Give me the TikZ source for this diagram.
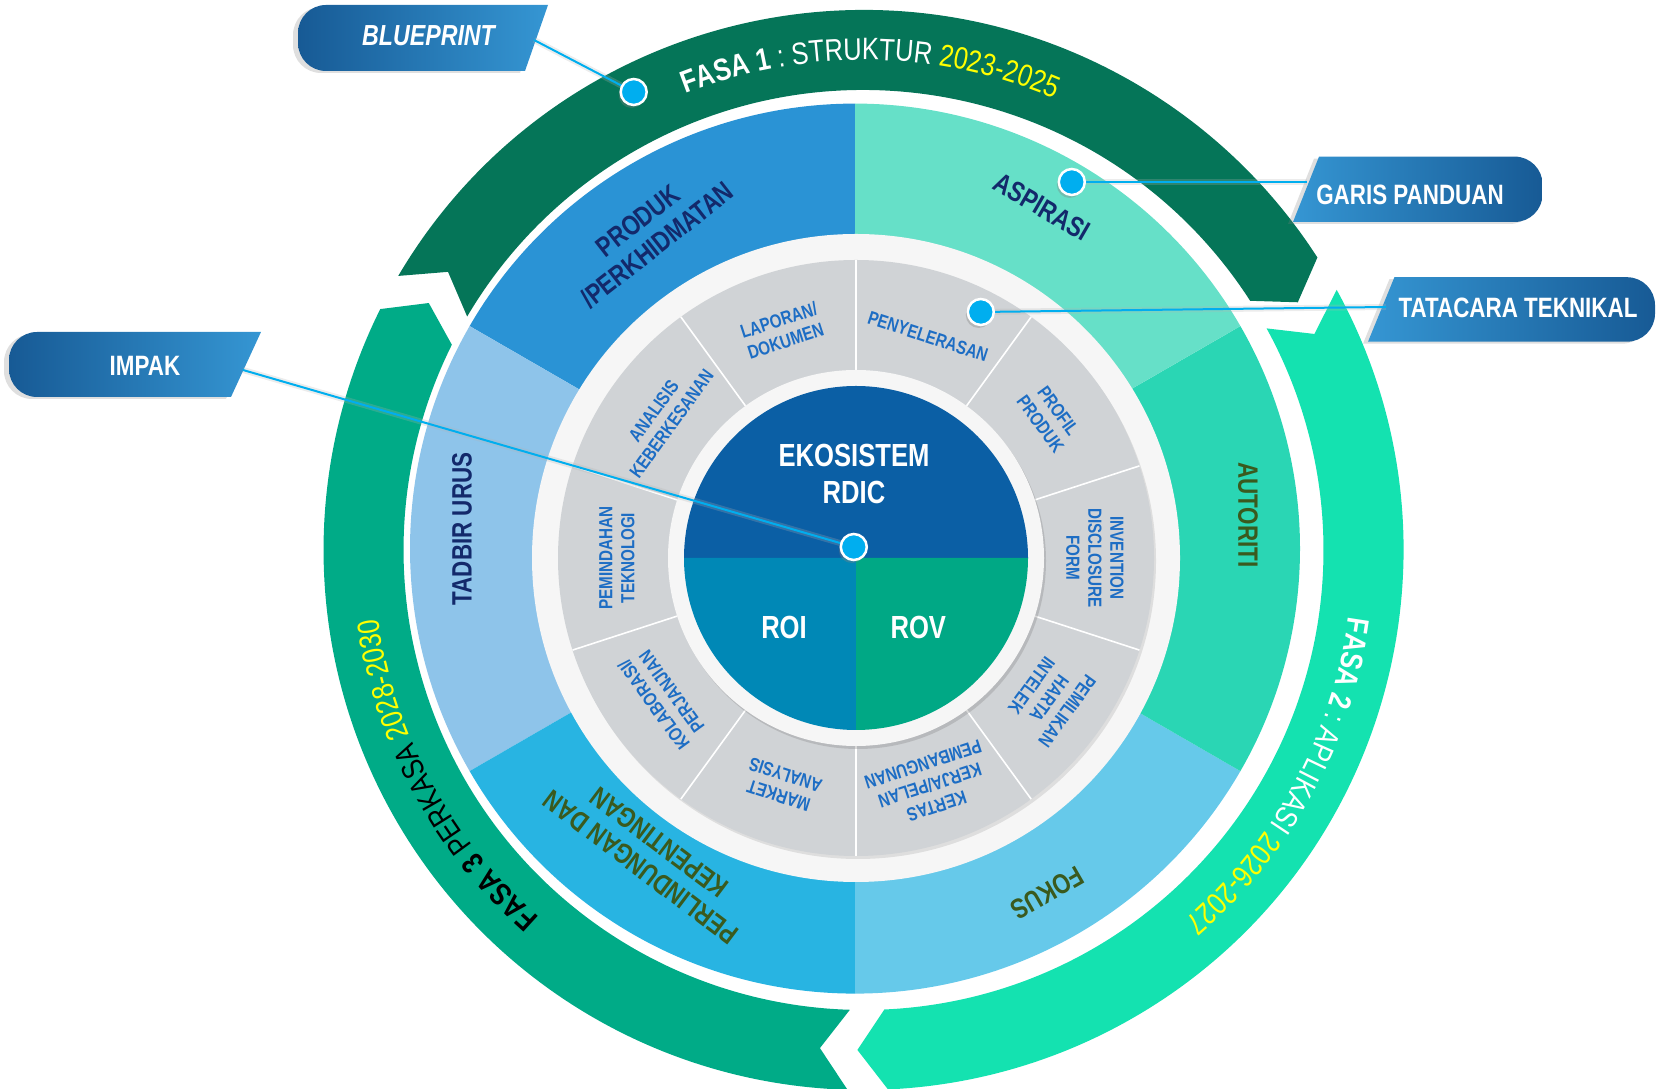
\documentclass[tikz,border=0pt]{standalone}
\usepackage{fontspec}
\usetikzlibrary{decorations.text,shadows,calc}
\newfontfamily\nar[FakeStretch=0.8]{Liberation Sans}
\newfontfamily\narw[FakeStretch=0.82]{Liberation Sans}
\newcommand\phB{\narw\bfseries\fontsize{31}{31}\selectfont}
\newcommand\phR{\narw\mdseries\fontsize{31}{31}\selectfont}
\definecolor{fasaA}{HTML}{057558}
\definecolor{fasaB}{HTML}{14E2B0}
\definecolor{fasaC}{HTML}{00AB87}
\definecolor{segProduk}{HTML}{2A93D5}
\definecolor{segAspirasi}{HTML}{66E0C8}
\definecolor{segAutoriti}{HTML}{2AD6B4}
\definecolor{segFokus}{HTML}{66C9EA}
\definecolor{segPerl}{HTML}{28B4E2}
\definecolor{segTadbir}{HTML}{8EC4EA}
\definecolor{navyTxt}{HTML}{13296B}
\definecolor{oliveTxt}{HTML}{3A5A1E}
\definecolor{grayseg}{HTML}{D0D3D6}
\definecolor{grayTxt}{HTML}{1D6DC4}
\definecolor{ringW}{HTML}{F6F6F6}
\definecolor{coreTop}{HTML}{0B5FA5}
\definecolor{coreRoi}{HTML}{0088B6}
\definecolor{coreRov}{HTML}{00A885}
\definecolor{linkC}{HTML}{00AEEF}
\definecolor{tagDark}{HTML}{175A95}
\definecolor{tagLight}{HTML}{3596D3}
\definecolor{yel}{HTML}{FFFF00}
\begin{document}
\begin{tikzpicture}[x=1pt,y=1pt,
  midtxt/.style={font=\nar\bfseries\fontsize{28}{31}\selectfont, align=center, inner sep=0pt},
  graytxt/.style={font=\nar\bfseries\fontsize{19}{22}\selectfont, text=grayTxt, align=center, inner sep=0pt},
  tagtxt/.style={font=\nar\bfseries\fontsize{28}{30}\selectfont, text=white, inner sep=0pt},
  coretxt/.style={font=\nar\bfseries\fontsize{32}{36}\selectfont, text=white, inner sep=0pt},
  dot/.style={circle, fill=linkC, draw=white, line width=2.5pt, minimum size=26pt, inner sep=0pt,
     drop shadow={opacity=0.35,shadow xshift=-2pt,shadow yshift=-3pt}},
  link/.style={draw=linkC, line width=2pt},
  linkshadow/.style={draw=black!30, line width=6pt, opacity=0.25},
  tagshadow/.style={drop shadow={opacity=0.25,shadow xshift=-5pt,shadow yshift=-2pt}},
]
\useasboundingbox (0,0) rectangle (1659,1089);
\coordinate (O) at (863.5,539);
\coordinate (M) at (855,540.4);
\coordinate (C) at (856,531);

% ---- outer phase bands
\fill[fasaA] ($(O)+(149.5:540)$) arc[start angle=149.5,end angle=32.8,radius=540]
  -- ($(O)+(29.7:500)$) -- ($(O)+(32.8:460)$) arc[start angle=32.8,end angle=149.5,radius=460]
  -- ($(O)+(146.2:500)$) -- cycle;
\fill[fasaB] ($(O)+(28.8:540)$) arc[start angle=28.8,end angle=-87.4,radius=540]
  -- ($(O)+(-90.7:500)$) -- ($(O)+(-87.4:460)$) arc[start angle=-87.4,end angle=28.8,radius=460]
  -- ($(O)+(25.6:500)$) -- cycle;
\fill[fasaC] ($(O)+(268.3:540)$) arc[start angle=268.3,end angle=153.5,radius=540]
  -- ($(O)+(150.4:500)$) -- ($(O)+(153.5:460)$) arc[start angle=153.5,end angle=268.3,radius=460]
  -- ($(O)+(265:500)$) -- cycle;

% ---- phase texts
\path[decorate, decoration={text along path, text align=center,
  text={|\phB\color{white}|FASA 1 |\phR\color{white}|: STRUKTUR |\phR\color{yel}|2023-2025}}]
  ($(O)+(150.2:490)$) arc[start angle=150.2,end angle=28.2,radius=490];
\path[decorate, decoration={text along path, text align=center,
  text={|\phB\color{white}|FASA 2 |\phR\color{white}|: APLIKASI |\phR\color{yel}|2026-2027}}]
  ($(O)+(32.5:490)$) arc[start angle=32.5,end angle=-89.5,radius=490];
\path[decorate, decoration={text along path, text align=center,
  text={|\phB\color{black}|FASA 3 |\phR\color{black}|PERKASA |\phR\color{yel}|2028-2030}}]
  ($(O)+(269.3:490)$) arc[start angle=269.3,end angle=147.3,radius=490];

% ---- middle ring
\fill[segProduk]  (M) -- ++(90:445)  arc[start angle=90,end angle=150,radius=445] -- cycle;
\fill[segTadbir]  (M) -- ++(150:445) arc[start angle=150,end angle=210,radius=445] -- cycle;
\fill[segPerl]    (M) -- ++(210:445) arc[start angle=210,end angle=270,radius=445] -- cycle;
\fill[segFokus]   (M) -- ++(270:445) arc[start angle=270,end angle=330,radius=445] -- cycle;
\fill[segAutoriti](M) -- ++(-30:445) arc[start angle=-30,end angle=30,radius=445] -- cycle;
\fill[segAspirasi](M) -- ++(30:445)  arc[start angle=30,end angle=90,radius=445] -- cycle;

% ---- white band, gray ring
\fill[ringW] (C) circle[radius=324];
\fill[grayseg, drop shadow={opacity=0.2,shadow xshift=2pt,shadow yshift=-3pt}] (C) circle[radius=298];
\foreach \a in {18,54,...,342}
  \draw[white, line width=1.6pt] ($(C)+(\a:188)$) -- ($(C)+(\a:298)$);
\fill[ringW, drop shadow={opacity=0.3,shadow xshift=2pt,shadow yshift=-3pt}] (C) circle[radius=188];

% ---- core
\fill[coreTop] ($(C)+(172,0)$) arc[start angle=0,end angle=180,radius=172] -- cycle;
\fill[coreRoi] (C) -- ++(180:172) arc[start angle=180,end angle=270,radius=172] -- cycle;
\fill[coreRov] (C) -- ++(270:172) arc[start angle=270,end angle=360,radius=172] -- cycle;
\node[coretxt] (eko) at (854,634) {EKOSISTEM};
\node[coretxt] (rdic) at (854,597) {RDIC};
\node[coretxt] (roi) at (784,461.6) {ROI};
\node[coretxt] (rov) at (918.3,461.6) {ROV};

% ---- middle ring labels
\node[midtxt, text=navyTxt, rotate=90] (tadbir) at (462,560) {TADBIR URUS};
\node[midtxt, text=navyTxt, rotate=38] (produk) at (647.5,856) {PRODUK\\/PERKHIDMATAN};
\node[midtxt, text=navyTxt, rotate=-30] (aspirasi) at (1042,882) {ASPIRASI};
\node[midtxt, text=oliveTxt, rotate=-90] (autoriti) at (1248,574) {AUTORITI};
\node[midtxt, text=oliveTxt, rotate=210] (fokus) at (1047,196) {FOKUS};
\node[midtxt, text=oliveTxt, rotate=143] (perl) at (650,234) {PERLINDUNGAN DAN\\KEPENTINGAN};

% ---- gray ring labels
\node[graytxt, rotate=18]  (g1) at ($(C)+(108:239)$) {LAPORAN/\\DOKUMEN};
\node[graytxt, rotate=54]  (g2) at ($(C)+(144:239)$) {ANALISIS\\KEBERKESANAN};
\node[graytxt, rotate=90]  (g3) at ($(C)+(180:239)$) {PEMINDAHAN\\TEKNOLOGI};
\node[graytxt, rotate=126] (g4) at ($(C)+(216:239)$) {KOLABORASI/\\PERJANJIAN};
\node[graytxt, rotate=162] (g5) at ($(C)+(252:239)$) {MARKET\\ANALYSIS};
\node[graytxt, rotate=198] (g6) at ($(C)+(288:239)$) {KERTAS\\KERJA/PELAN\\PEMBANGUNAN};
\node[graytxt, rotate=234] (g7) at ($(C)+(324:239)$) {PEMILIKAN\\HARTA\\INTELEK};
\node[graytxt, rotate=-90] (g8) at ($(C)+(0:239)$) {INVENTION\\DISCLOSURE\\FORM};
\node[graytxt, rotate=-54] (g9) at ($(C)+(36:239)$) {PROFIL\\PRODUK};
\node[graytxt, rotate=-18] (g10) at ($(C)+(72:233)$) {PENYELERASAN};

% ---- tags
\path[tagshadow, left color=tagDark, right color=tagLight] (525,1018) -- (326,1018)
  arc[start angle=270,end angle=180,radius=28] -- (298,1056)
  arc[start angle=180,end angle=90,radius=28] -- (548,1084) -- cycle;
\node[tagtxt, font=\nar\bfseries\itshape\fontsize{29}{30}\selectfont] (bp) at (428.5,1053) {BLUEPRINT};
\path[tagshadow, left color=tagDark, right color=tagLight] (231,692) -- (37,692)
  arc[start angle=270,end angle=180,radius=28] -- (9,729)
  arc[start angle=180,end angle=90,radius=28] -- (261,757) -- cycle;
\node[tagtxt] (impak) at (145,723) {IMPAK};
\path[tagshadow, left color=tagLight, right color=tagDark] (1293,867) -- (1514.6,867)
  arc[start angle=-90,end angle=0,radius=28] -- (1542.6,904.4)
  arc[start angle=0,end angle=90,radius=28] -- (1319,932.4) -- cycle;
\node[tagtxt] (garis) at (1410,894) {GARIS PANDUAN};
\path[tagshadow, left color=tagLight, right color=tagDark] (1368,747.3) -- (1627,747.3)
  arc[start angle=-90,end angle=0,radius=28] -- (1655,783.8)
  arc[start angle=0,end angle=90,radius=28] -- (1394.4,811.8) -- cycle;
\node[tagtxt] (tata) at (1518,781) {TATACARA TEKNIKAL};

% ---- connectors
\coordinate (bpEnd) at (534,1049);
\coordinate (impEnd) at (243,719);
\coordinate (gpEnd) at (1306.6,907);
\coordinate (ttEnd) at (1386,782);
\coordinate (pBP) at (633.7,997);
\coordinate (pGP) at (1071.8,907);
\coordinate (pTT) at (980.8,777);
\coordinate (pC) at (853.8,542);
\begin{scope}[yshift=-6pt]
\draw[linkshadow] (bpEnd) -- (pBP);
\draw[linkshadow] (impEnd) -- (pC);
\draw[linkshadow] (gpEnd) -- (pGP);
\draw[linkshadow] (ttEnd) -- (pTT);
\end{scope}
\draw[link] (bpEnd) -- (pBP);
\draw[link] (impEnd) -- (pC);
\draw[link] (gpEnd) -- (pGP);
\draw[link] (ttEnd) -- (pTT);
\node[dot] (dotBP) at (pBP) {};
\node[dot] (dotGP) at (pGP) {};
\node[dot] (dotTT) at (pTT) {};
\node[dot] (dotC) at (pC) {};
\end{tikzpicture}
\end{document}
